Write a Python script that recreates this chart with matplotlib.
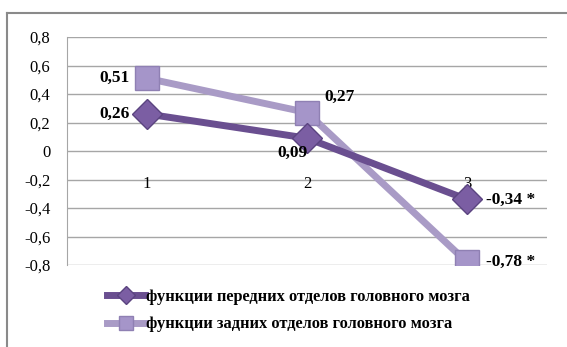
import matplotlib.pyplot as plt
from matplotlib.lines import Line2D

# Доли (коэффициенты) по трём точкам
points = [1, 2, 3]
point_labels = ["1", "2", "3"]
front = [0.26, 0.09, -0.34]
back = [0.51, 0.27, -0.78]
front_text = ["0,26", "0,09", "-0,34 *"]
back_text = ["0,51", "0,27", "-0,78 *"]
y_ticks = [-0.8, -0.6, -0.4, -0.2, 0, 0.2, 0.4, 0.6, 0.8]

dark = "#6a4f90"
dark_mk = "#7b5ea3"
light = "#a99bc6"
light_mk = "#a595c9"

plt.rcParams["font.family"] = ["Liberation Serif", "DejaVu Serif"]

fig = plt.figure(figsize=(5.67, 3.47), dpi=100)
ax = fig.add_axes([67 / 567, 1 - 265 / 347, 480 / 567, 228 / 347])

# рамка вокруг диаграммы (видны только верх и левый край)
fig.add_artist(Line2D([7 / 567, 7 / 567], [0, 1 - 13 / 347], transform=fig.transFigure,
                      color="#8a8a8a", lw=1.5))
fig.add_artist(Line2D([7 / 567, 1], [1 - 13 / 347, 1 - 13 / 347], transform=fig.transFigure,
                      color="#8a8a8a", lw=1.5))

for y in y_ticks:
    ax.axhline(y, color="#a6a6a6", lw=1.0, zorder=1)

ax.plot(points, back, color=light, lw=5, marker="s", markersize=17,
        markerfacecolor=light_mk, markeredgecolor="#8f80b3", markeredgewidth=1,
        zorder=3, label="функции задних отделов головного мозга")
ax.plot(points, front, color=dark, lw=5, marker="D", markersize=15,
        markerfacecolor=dark_mk, markeredgecolor="#5b4480", markeredgewidth=1,
        zorder=4, label="функции передних отделов головного мозга")

ax.set_xlim(0.5, 3.5)
ax.set_ylim(-0.8, 0.8)
ax.set_yticks(y_ticks)
ax.set_yticklabels([f"{v:.1f}".replace(".", ",") if v != 0 else "0" for v in y_ticks],
                   fontsize=12)
ax.tick_params(axis="y", length=0, pad=12)
ax.set_xticks([])
for s in ["top", "right", "bottom"]:
    ax.spines[s].set_visible(False)
ax.spines["left"].set_color("#a6a6a6")

for x, lab in zip(points, point_labels):
    ax.text(x, -0.23, lab, ha="center", va="center", fontsize=12)

bold = dict(fontsize=12.5, fontweight="bold", zorder=6)
ax.text(0.89, back[0], back_text[0], ha="right", va="center", **bold)
ax.text(0.89, front[0], front_text[0], ha="right", va="center", **bold)
ax.text(2.11, back[1] + 0.11, back_text[1], ha="left", va="center", **bold)
ax.text(1.91, front[1] - 0.105, front_text[1], ha="center", va="center", **bold)
ax.text(3.12, front[2], front_text[2], ha="left", va="center", **bold)
ax.text(3.12, back[2], back_text[2], ha="left", va="center", **bold)

handles, labels = ax.get_legend_handles_labels()
fig.legend(handles[::-1], labels[::-1], loc="upper left",
           bbox_to_anchor=(107 / 567, 1 - 289 / 347), frameon=False,
           prop={"size": 11.8, "weight": "bold"}, handlelength=2.3,
           handletextpad=0.1, labelspacing=0.7, markerscale=0.6,
           borderpad=0, borderaxespad=0)

fig.savefig("out.png", dpi=100)
